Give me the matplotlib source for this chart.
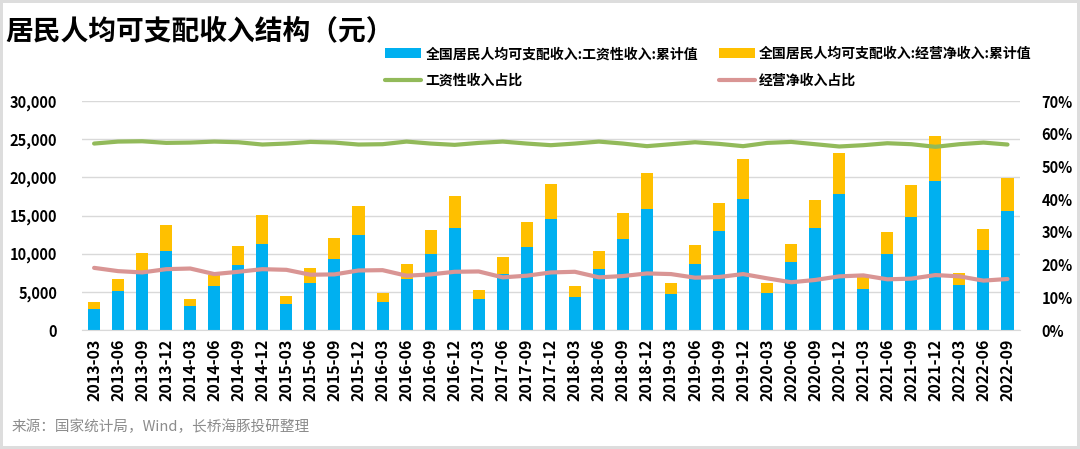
import matplotlib
matplotlib.use("Agg")
import matplotlib.pyplot as plt
import numpy as np
from matplotlib.ticker import FuncFormatter, MultipleLocator

plt.rcParams['font.family'] = ['Noto Sans CJK SC', 'DejaVu Sans']

quarters = ["2013-03", "2013-06", "2013-09", "2013-12",
            "2014-03", "2014-06", "2014-09", "2014-12",
            "2015-03", "2015-06", "2015-09", "2015-12",
            "2016-03", "2016-06", "2016-09", "2016-12",
            "2017-03", "2017-06", "2017-09", "2017-12",
            "2018-03", "2018-06", "2018-09", "2018-12",
            "2019-03", "2019-06", "2019-09", "2019-12",
            "2020-03", "2020-06", "2020-09", "2020-12",
            "2021-03", "2021-06", "2021-09", "2021-12",
            "2022-03", "2022-06", "2022-09"]

# 工资性收入 累计值 (元)
wage = [2740, 5130, 7700, 10310,
        3175, 5790, 8530, 11310,
        3440, 6220, 9310, 12400,
        3610, 6650, 10000, 13400,
        4045, 7310, 10920, 14490,
        4350, 8000, 11920, 15790,
        4740, 8700, 12920, 17100,
        4870, 8920, 13400, 17840,
        5390, 10000, 14790, 19580,
        5870, 10530, 15620]

# 经营净收入+工资性收入 合计 (bar top)
total = [3700, 6650, 10050, 13790,
         4090, 7180, 11050, 15050,
         4520, 8090, 12090, 16270,
         4830, 8700, 13140, 17570,
         5220, 9530, 14090, 19100,
         5740, 10310, 15270, 20580,
         6220, 11180, 16700, 22360,
         6180, 11270, 17050, 23140,
         7100, 12790, 18970, 25450,
         7530, 13270, 19920]
business = [t - w for t, w in zip(total, wage)]

# 占比 (%)
wage_share = [57.0, 57.6, 57.7, 57.2, 57.3, 57.6, 57.4, 56.7, 57.0, 57.5,
              57.3, 56.7, 56.8, 57.6, 57.0, 56.6, 57.2, 57.6, 57.0, 56.5,
              57.0, 57.6, 57.0, 56.2, 56.8, 57.4, 56.9, 56.2, 57.2, 57.5,
              56.8, 56.1, 56.5, 57.1, 56.8, 56.0, 56.8, 57.3, 56.7]
biz_share = [19.0, 18.0, 17.6, 18.6, 18.8, 17.1, 17.8, 18.6, 18.4, 16.9,
             17.0, 18.2, 18.3, 16.6, 17.0, 17.8, 17.9, 16.1, 16.6, 17.6,
             17.8, 16.1, 16.5, 17.3, 17.1, 16.0, 16.2, 17.1, 15.8, 14.6,
             15.3, 16.4, 16.7, 15.5, 15.7, 16.8, 16.4, 15.1, 15.6]

blue = "#00B0F0"
yellow = "#FFC000"
green = "#92BA5A"
pink = "#D99594"

fig = plt.figure(figsize=(10.8, 4.49), dpi=100)
fig.patch.set_edgecolor("#DDDDDD")
fig.patch.set_linewidth(3)
ax = fig.add_axes([0.076, 0.265, 0.868, 0.51])
ax2 = ax.twinx()

x = np.arange(len(quarters))
b1 = ax.bar(x, wage, width=0.5, color=blue, label="全国居民人均可支配收入:工资性收入:累计值", zorder=2)
b2 = ax.bar(x, business, width=0.5, bottom=wage, color=yellow,
            label="全国居民人均可支配收入:经营净收入:累计值", zorder=2)
l1, = ax2.plot(x, wage_share, color=green, lw=3, label="工资性收入占比", solid_capstyle="round")
l2, = ax2.plot(x, biz_share, color=pink, lw=3, label="经营净收入占比", solid_capstyle="round")

ax.set_xlim(-0.5, len(quarters) - 0.5)
ax.set_ylim(0, 30000)
ax2.set_ylim(0, 70)
ax.yaxis.set_major_locator(MultipleLocator(5000))
ax2.yaxis.set_major_locator(MultipleLocator(10))
ax.yaxis.set_major_formatter(FuncFormatter(lambda v, p: f"{int(v):,}"))
ax2.yaxis.set_major_formatter(FuncFormatter(lambda v, p: f"{int(round(v))}%"))
ax.grid(axis="y", color="#D9D9D9", lw=1, zorder=0)
ax.set_axisbelow(True)

ax.set_xticks(x)
ax.set_xticklabels(quarters, rotation=90, fontsize=11.5, fontweight="bold")
for a in (ax, ax2):
    for s in a.spines.values():
        s.set_visible(False)
    a.tick_params(length=0)
ax.spines["bottom"].set_visible(True)
ax.spines["bottom"].set_color("#D9D9D9")
ax.tick_params(axis="x", pad=6)
ax.tick_params(axis="y", labelsize=10.5, pad=18)
ax2.tick_params(axis="y", labelsize=10.5, pad=16)
for lab in ax.get_yticklabels() + ax2.get_yticklabels():
    lab.set_fontweight("bold")

fig.text(0.005, 0.93, "居民人均可支配收入结构（元）", fontsize=20, fontweight="bold",
         va="center", ha="left")

leg = fig.legend(handles=[b1, l1, b2, l2], ncol=2, loc="center left",
                 bbox_to_anchor=(0.345, 0.85), frameon=False,
                 prop={"size": 10, "weight": "bold"}, handlelength=2.6,
                 handleheight=0.7, columnspacing=1.5, labelspacing=0.9,
                 handletextpad=0.3)

fig.text(0.011, 0.05, "来源：国家统计局，Wind，长桥海豚投研整理", fontsize=10.5,
         color="#8C8C8C", style="italic", va="center", ha="left")

fig.savefig("out.png", dpi=100)
